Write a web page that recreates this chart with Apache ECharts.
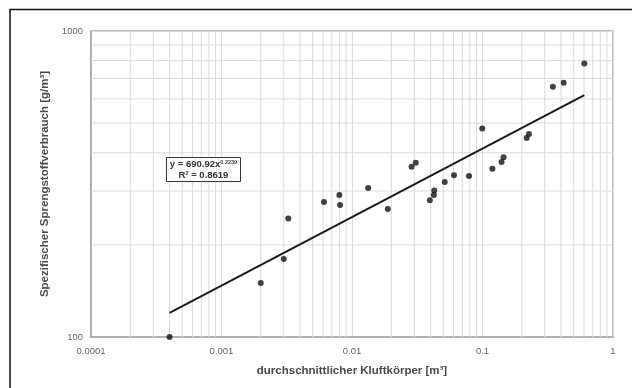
<!DOCTYPE html>
<html>
<head>
<meta charset="utf-8">
<script src="https://cdn.jsdelivr.net/npm/echarts@6/dist/echarts.min.js"></script>
<style>
  html, body { margin: 0; padding: 0; background: #fff; }
  #chart { width: 632px; height: 388px; }
</style>
</head>
<body>
<div id="chart"></div>
<script>
// Mean joint block volume [m³] and specific explosive consumption [g/m³]
const blockVolume = [0.0004, 0.002, 0.003, 0.00325, 0.0061, 0.0080, 0.0081, 0.0133, 0.0188,
  0.0286, 0.0308, 0.0395, 0.0424, 0.0427, 0.0514, 0.0605, 0.0788, 0.0996, 0.119,
  0.140, 0.145, 0.218, 0.227, 0.346, 0.419, 0.603];
const explosiveUse = [100, 150, 180, 244, 276, 291, 270, 307, 262,
  360, 371, 280, 291, 301, 321, 338, 336, 480, 355,
  373, 387, 447, 461, 657, 677, 783];

// Power-law fit y = a·x^b
const fitA = 690.92;
const fitB = 0.2239;
const fitR2 = 0.8619;

// Axis ranges and tick labels
const xRange = [0.0001, 1];
const yRange = [100, 1000];
const xTickLabels = ['0.0001', '0.001', '0.01', '0.1', '1'];
const yTickLabels = ['100', '1000'];
const xDecades = [0.0001, 0.001, 0.01, 0.1];
const yDecades = [100];
const minorSteps = [2, 3, 4, 5, 6, 7, 8, 9];

const xMinor = [];
xDecades.forEach(d => minorSteps.forEach(m => xMinor.push(+(d * m).toPrecision(6))));
const yMinor = [];
yDecades.forEach(d => minorSteps.forEach(m => yMinor.push(d * m)));

const xMin = Math.min(...blockVolume), xMax = Math.max(...blockVolume);
const trend = [xMin, xMax].map(x => [x, fitA * Math.pow(x, fitB)]);

const gridColor = '#dcdcdc';
const chart = echarts.init(document.getElementById('chart'), null, { renderer: 'canvas' });

function labelFor(list, v) {
  const e = Math.round(Math.log10(v));
  const hit = list.find(s => Math.round(Math.log10(parseFloat(s))) === e);
  return hit || '';
}

// minor gridlines at 2..9 of each decade, one two-point line each
const gridSeries = xMinor.map(v => [[v, yRange[0]], [v, yRange[1]]])
  .concat(yMinor.map(v => [[xRange[0], v], [xRange[1], v]]))
  .map(pts => ({
    type: 'line', data: pts, showSymbol: false, silent: true, z: 1,
    lineStyle: { color: gridColor, width: 1 }
  }));

const titleStyle = { fontFamily: 'Liberation Sans', fontWeight: 'bold', fontSize: 11.5, color: '#4a4a4a' };
const tickStyle = { fontFamily: 'Liberation Sans', fontSize: 9.5, color: '#666' };

chart.setOption({
  animation: false,
  backgroundColor: '#fff',
  grid: {
    left: 91, right: 19, top: 31, bottom: 51,
    show: true, borderColor: '#a8a8a8', borderWidth: 1.5, containLabel: false
  },
  xAxis: {
    type: 'log', logBase: 10, min: xRange[0], max: xRange[1],
    name: 'durchschnittlicher Kluftkörper [m³]',
    nameLocation: 'middle', nameGap: 28,
    nameTextStyle: titleStyle,
    axisLine: { show: true, lineStyle: { color: '#a8a8a8', width: 1.5 } },
    axisTick: { show: false },
    axisLabel: Object.assign({ margin: 9, formatter: v => labelFor(xTickLabels, v) }, tickStyle),
    splitLine: { show: true, lineStyle: { color: gridColor, width: 1 } }
  },
  yAxis: {
    type: 'log', logBase: 10, min: yRange[0], max: yRange[1],
    name: 'Spezifischer Sprengstoffverbrauch [g/m³]',
    nameLocation: 'middle', nameGap: 40, nameRotate: 90,
    nameTextStyle: titleStyle,
    axisLine: { show: true, lineStyle: { color: '#a8a8a8', width: 1.5 } },
    axisTick: { show: false },
    axisLabel: Object.assign({ margin: 8, formatter: v => labelFor(yTickLabels, v) }, tickStyle),
    splitLine: { show: true, lineStyle: { color: gridColor, width: 1 } }
  },
  series: gridSeries.concat([
    {
      type: 'line', data: trend, showSymbol: false, silent: true,
      lineStyle: { color: '#1a1a1a', width: 2 }, z: 3
    },
    {
      type: 'scatter', data: blockVolume.map((x, i) => [x, explosiveUse[i]]),
      symbol: 'circle', symbolSize: 6,
      itemStyle: { color: '#111' }, z: 4
    }
  ]),
  graphic: [
    {
      // outer chart frame
      type: 'rect', shape: { x: 10, y: 9.5, width: 640, height: 400 },
      style: { fill: 'none', stroke: '#111', lineWidth: 1.5 }, silent: true
    },
    {
      type: 'rect', shape: { x: 166.5, y: 157.5, width: 74, height: 24 },
      style: { fill: '#fff', stroke: '#333', lineWidth: 1 }, z: 10
    },
    {
      type: 'text', x: 203.5, y: 159, z: 11,
      style: {
        text: '{m|y = ' + fitA.toFixed(2) + 'x}{s|' + fitB.toFixed(4) + '}\n{m|R}{s|2}{m| = ' + fitR2.toFixed(4) + '}',
        align: 'center', verticalAlign: 'top', lineHeight: 11,
        rich: {
          m: { fontFamily: 'Liberation Sans', fontSize: 9.5, fontWeight: 'bold', fill: '#333', lineHeight: 11 },
          s: { fontFamily: 'Liberation Sans', fontSize: 5.5, fontWeight: 'bold', fill: '#444', verticalAlign: 'top', lineHeight: 11 }
        }
      }
    }
  ]
});
</script>
</body>
</html>
